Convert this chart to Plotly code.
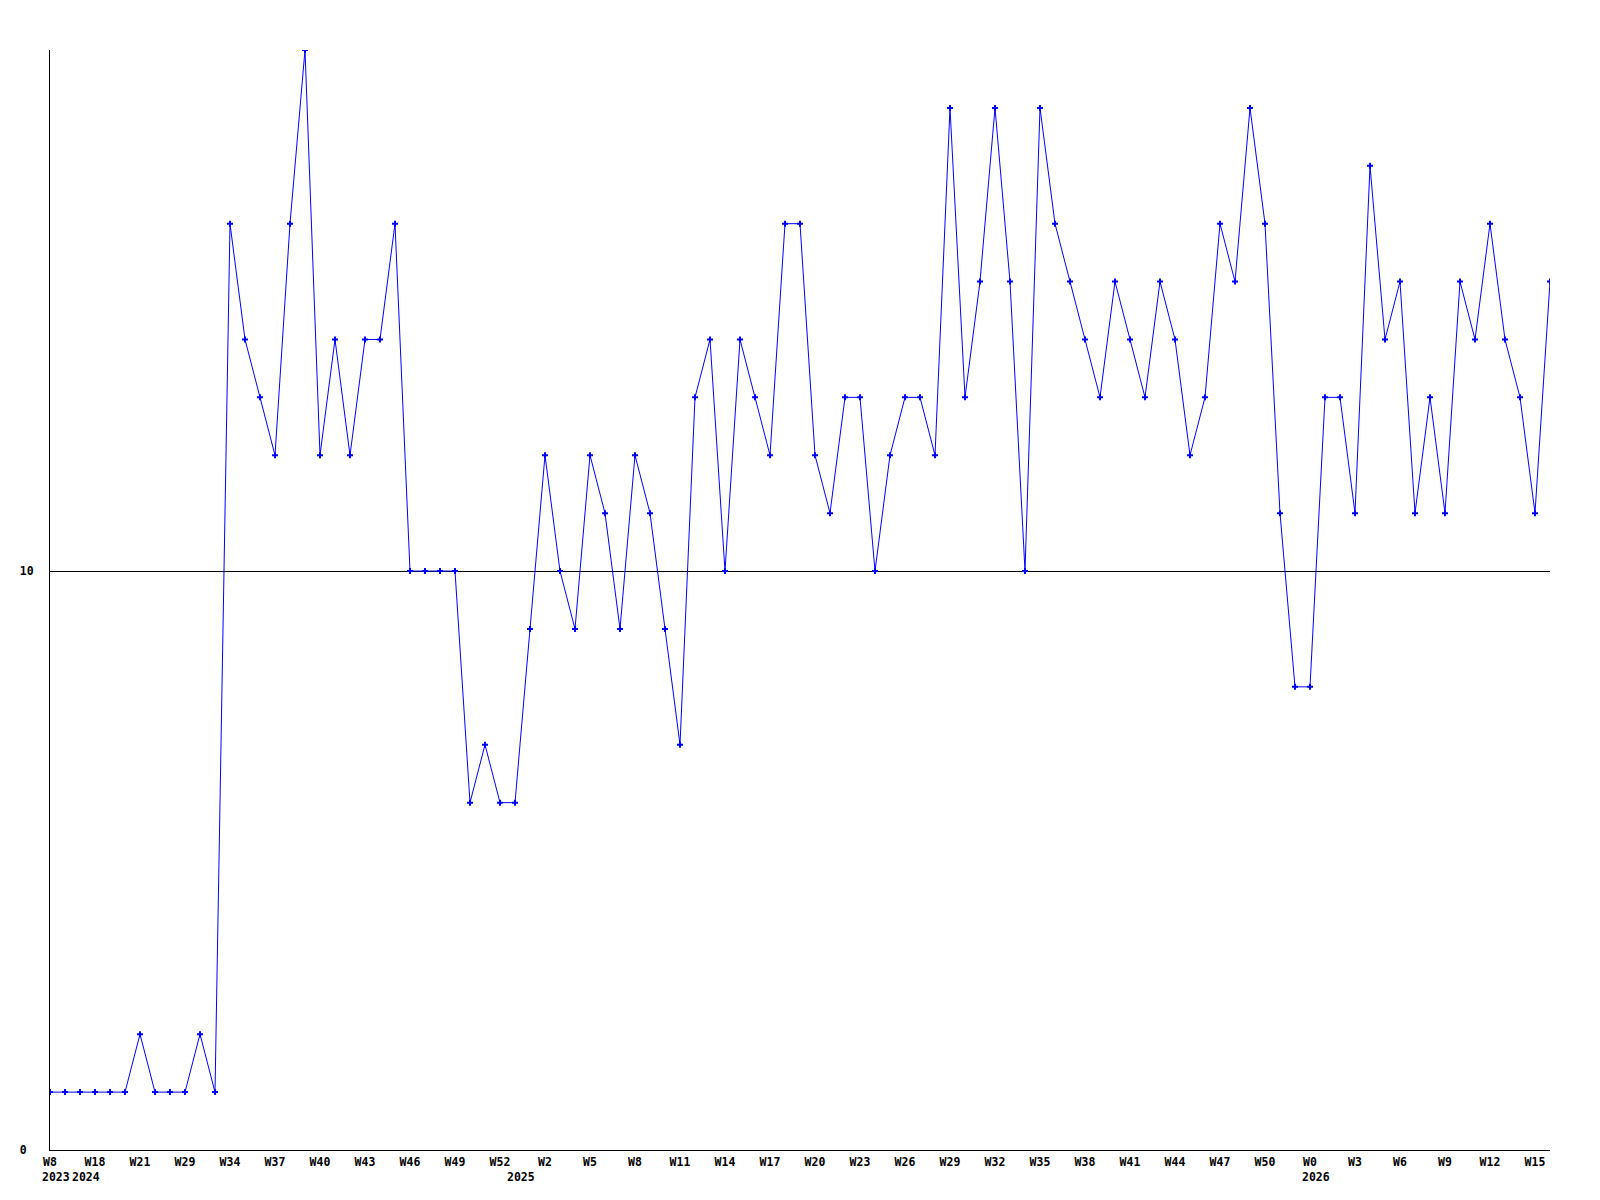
import plotly.graph_objects as go

values = [1, 1, 1, 1, 1, 1, 2, 1, 1, 1, 2, 1,
          16, 14, 13, 12, 16, 19, 12, 14, 12, 14, 14, 16,
          10, 10, 10, 10, 6, 7, 6, 6, 9, 12, 10, 9,
          12, 11, 9, 12, 11, 9, 7, 13, 14, 10, 14, 13,
          12, 16, 16, 12, 11, 13, 13, 10, 12, 13, 13, 12,
          18, 13, 15, 18, 15, 10, 18, 16, 15, 14, 13, 15,
          14, 13, 15, 14, 12, 13, 16, 15, 18, 16, 11, 8,
          8, 13, 13, 11, 17, 14, 15, 11, 13, 11, 15, 14,
          16, 14, 13, 11, 15]
x_index = list(range(len(values)))

tick_positions = list(range(0, 100, 3))
tick_labels = ["W8", "W18", "W21", "W29", "W34", "W37", "W40", "W43", "W46", "W49",
               "W52", "W2", "W5", "W8", "W11", "W14", "W17", "W20", "W23", "W26",
               "W29", "W32", "W35", "W38", "W41", "W44", "W47", "W50", "W0", "W3",
               "W6", "W9", "W12", "W15"]
year_labels = ["2023", "2024", "2025", "2026"]
year_positions = [0, 2, 31, 84]
y_tick_values = [0, 10]
y_tick_labels = ["0\u00a0", "10"]

font_family = "DejaVu Sans Mono"

fig = go.Figure()
fig.add_trace(go.Scatter(
    x=x_index, y=values, mode="lines+markers",
    line=dict(color="#0000ff", width=1),
    marker=dict(symbol="cross", size=5, color="#0000ff", line=dict(width=0)),
    hoverinfo="skip",
))

for lab, pos in zip(year_labels, year_positions):
    fig.add_annotation(x=pos, y=0, xref="x", yref="y", text="<b>%s</b>" % lab,
                       showarrow=False, xanchor="left", yanchor="top",
                       xshift=-10, yshift=-18,
                       font=dict(family=font_family, size=11.5, color="black"))

fig.update_layout(
    width=1600, height=1200,
    margin=dict(l=42, r=58, t=42, b=58, autoexpand=False),
    paper_bgcolor="white", plot_bgcolor="white",
    showlegend=False,
    font=dict(family=font_family, size=11.5, color="black"),
)
fig.update_xaxes(
    range=[0, 100], tickmode="array", tickvals=tick_positions,
    ticktext=["<b>%s</b>" % t for t in tick_labels],
    showgrid=False, zeroline=False, showline=True, linecolor="black", linewidth=1,
    ticks="", ticklabelstandoff=1, fixedrange=True, automargin=False,
)
fig.update_yaxes(
    range=[0, 19], tickmode="array", tickvals=y_tick_values,
    ticktext=["<b>%s</b>" % t for t in y_tick_labels],
    showgrid=True, gridcolor="black", gridwidth=1,
    zeroline=False, showline=True, linecolor="black", linewidth=1,
    ticks="", ticklabelstandoff=13, fixedrange=True, automargin=False,
)

fig.write_html("out.html")
